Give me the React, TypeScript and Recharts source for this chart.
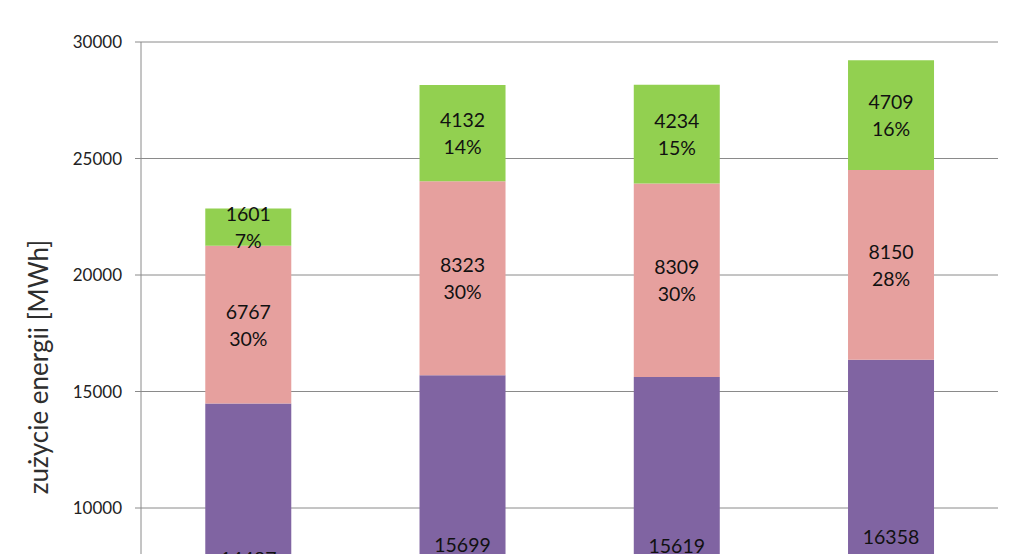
import { Bar, BarChart, CartesianGrid, LabelList, XAxis, YAxis } from "recharts";

// kategorie (podpisy osi X są poza kadrem)
const categories = ["1", "2", "3", "4"];
const purple = [14487, 15699, 15619, 16358];
const pink = [6767, 8323, 8309, 8150];
const green = [1601, 4132, 4234, 4709];
const purpleShare = ["63%", "56%", "55%", "56%"];
const pinkShare = ["30%", "30%", "30%", "28%"];
const greenShare = ["7%", "14%", "15%", "16%"];
const yTicks = [0, 5000, 10000, 15000, 20000, 25000, 30000];

const data = categories.map((name, i) => ({
    name,
    purple: purple[i],
    pink: pink[i],
    green: green[i],
}));

const FONT = "Lato, 'Open Sans', sans-serif";

function segmentLabel(values: number[], shares: string[]) {
    return (props: any) => {
        const { x, y, width, height, index } = props;
        const cx = x + width / 2;
        const cy = y + height / 2;
        return (
            <text
                x={cx}
                y={cy}
                textAnchor="middle"
                fontFamily={FONT}
                fontSize={19.5}
                fill="#111"
            >
                <tspan x={cx} dy={-6}>
                    {values[index]}
                </tspan>
                <tspan x={cx} dy={27}>
                    {shares[index]}
                </tspan>
            </text>
        );
    };
}

function YTitle() {
    const cx = 38;
    const cy = 367;
    return (
        <text
            x={cx}
            y={cy}
            transform={`rotate(-90, ${cx}, ${cy})`}
            textAnchor="middle"
            dominantBaseline="central"
            fontFamily={FONT}
            fontSize={26}
            fill="#2e2e2e"
        >
            zużycie energii [MWh]
        </text>
    );
}

export default function App() {
    return (
        <div style={{ position: "absolute", left: 0, top: 0, background: "#fff" }}>
            <BarChart
                width={1024}
                height={770}
                data={data}
                margin={{ top: 42, right: 26, bottom: 29, left: 0 }}
                barCategoryGap="30%"
            >
                <CartesianGrid vertical={false} stroke="#8a8a8a" />
                <XAxis dataKey="name" hide />
                <YAxis
                    width={141}
                    domain={[0, 30000]}
                    ticks={yTicks}
                    interval={0}
                    stroke="#8a8a8a"
                    tickSize={6}
                    tickMargin={13}
                    tick={{ fill: "#222", fontSize: 17, fontFamily: FONT }}
                    label={<YTitle />}
                />
                <Bar dataKey="purple" stackId="a" fill="#8064A2" isAnimationActive={false}>
                    <LabelList dataKey="purple" content={segmentLabel(purple, purpleShare)} />
                </Bar>
                <Bar dataKey="pink" stackId="a" fill="#E6A09E" isAnimationActive={false}>
                    <LabelList dataKey="pink" content={segmentLabel(pink, pinkShare)} />
                </Bar>
                <Bar dataKey="green" stackId="a" fill="#92D050" isAnimationActive={false}>
                    <LabelList dataKey="green" content={segmentLabel(green, greenShare)} />
                </Bar>
            </BarChart>
        </div>
    );
}
